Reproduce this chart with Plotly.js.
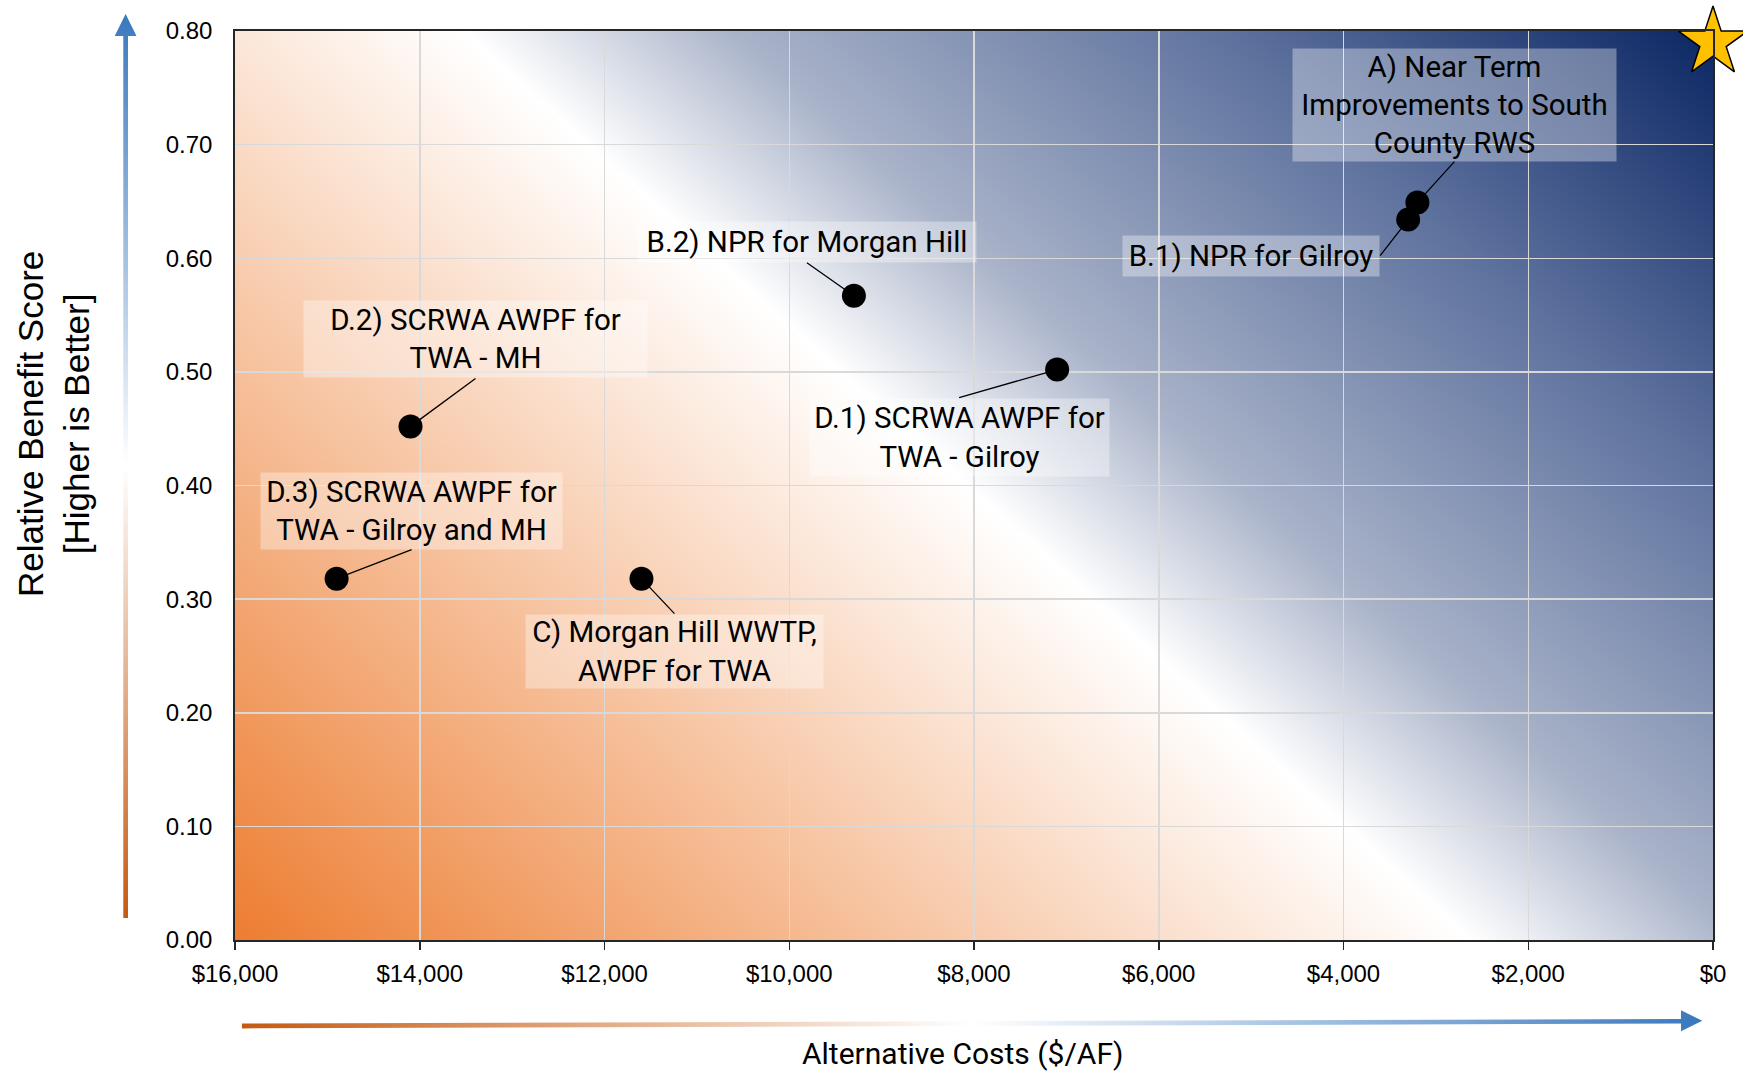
<!DOCTYPE html>
<html>
<head>
<meta charset="utf-8">
<script src="https://cdn.plot.ly/plotly-3.0.1.min.js"></script>
<style>html,body{margin:0;padding:0;background:#fff;}#chart{width:1743px;height:1073px;}</style>
</head>
<body>
<div id="chart"></div>
<script>
// ---- data ----
const labels = [
  "A) Near Term<br>Improvements to South<br>County RWS",
  "B.1) NPR for Gilroy",
  "B.2) NPR for Morgan Hill",
  "D.1) SCRWA AWPF for<br>TWA - Gilroy",
  "D.2) SCRWA AWPF for<br>TWA - MH",
  "D.3) SCRWA AWPF for<br>TWA - Gilroy and MH",
  "C) Morgan Hill WWTP,<br>AWPF for TWA"
];
const costs  = [3200, 3300, 9300, 7100, 14100, 14900, 11600];
const scores = [0.649, 0.634, 0.567, 0.502, 0.452, 0.318, 0.318];
const idealCost  = [0];
const idealScore = [0.79];
const xTitle = "Alternative Costs ($/AF)";
const yTitle = "Relative Benefit Score<br>[Higher is Better]";

// ---- label placement: pixel offset from point to the box attachment point, anchors, box sizes ----
const labelOffsets = [[37,-41],[-28,36],[-47,-33],[-98,28],[65,-48],[75,-29],[33,35]];
const labelAnchors = [['center','bottom'],['right','middle'],['center','bottom'],['center','top'],
                      ['center','bottom'],['center','bottom'],['center','top']];
const labelBoxes   = [[323,112],[256,40],[338,40],[299,77],[343,76],[301,76],[297,73]];

// ---- geometry ----
const W = 1743, H = 1073;
const M = {l:235, r:30, t:31, b:133};
const PW = W - M.l - M.r, PH = H - M.t - M.b;
const px2paperX = p => (p - M.l) / PW;
const px2paperY = p => (H - M.b - p) / PH;
const svgURI = s => 'data:image/svg+xml;charset=utf-8,' + encodeURIComponent(s);

// background diagonal gradient (orange bottom-left -> white -> navy top-right)
const bgSVG = `<svg xmlns="http://www.w3.org/2000/svg" width="${PW}" height="${PH}" viewBox="0 0 ${PW} ${PH}" preserveAspectRatio="none">
<defs><linearGradient id="g" gradientUnits="userSpaceOnUse" x1="0" y1="${PH}" x2="1114" y2="-328">
<stop offset="0" stop-color="#ED7D31"/>
<stop offset="0.497" stop-color="#FFFFFF"/>
<stop offset="0.606" stop-color="#A9B3C9"/>
<stop offset="0.803" stop-color="#5E729E"/>
<stop offset="1" stop-color="#0B2663"/>
</linearGradient></defs><rect x="0" y="0" width="${PW}" height="${PH}" fill="url(#g)"/></svg>`;

// vertical arrow (origin 110,5 ; 32x920)
const vSVG = `<svg xmlns="http://www.w3.org/2000/svg" width="32" height="920" viewBox="0 0 32 920" preserveAspectRatio="none">
<defs><linearGradient id="v" gradientUnits="userSpaceOnUse" x1="0" y1="9" x2="0" y2="913">
<stop offset="0" stop-color="#3978BE"/><stop offset="0.5" stop-color="#FFFFFF"/><stop offset="1" stop-color="#C55A11"/>
</linearGradient></defs>
<polygon points="15.6,9 26.5,31 18,31 18,913 13.3,913 13.3,31 4.7,31" fill="url(#v)"/></svg>`;

// horizontal arrow (origin 230,1000 ; 1480x40)
const hSVG = `<svg xmlns="http://www.w3.org/2000/svg" width="1480" height="40" viewBox="0 0 1480 40" preserveAspectRatio="none">
<defs><linearGradient id="h" gradientUnits="userSpaceOnUse" x1="12" y1="0" x2="1472" y2="0">
<stop offset="0" stop-color="#C55A11"/><stop offset="0.5" stop-color="#FFFFFF"/><stop offset="1" stop-color="#3978BE"/>
</linearGradient></defs>
<polygon points="12,23.6 1451,18.9 1451,10.3 1472.3,20.8 1451,31.3 1451,23.6 12,28.4" fill="url(#h)"/></svg>`;

const images = [
  {source: svgURI(bgSVG), xref:'paper', yref:'paper', x:0, y:1, sizex:1, sizey:1,
   xanchor:'left', yanchor:'top', sizing:'stretch', layer:'below'},
  {source: svgURI(vSVG), xref:'paper', yref:'paper', x:px2paperX(110), y:px2paperY(5),
   sizex:32/PW, sizey:920/PH, xanchor:'left', yanchor:'top', sizing:'stretch', layer:'above'},
  {source: svgURI(hSVG), xref:'paper', yref:'paper', x:px2paperX(230), y:px2paperY(1000),
   sizex:1480/PW, sizey:40/PH, xanchor:'left', yanchor:'top', sizing:'stretch', layer:'above'}
];

const labelFont = {family:'Roboto, "Open Sans", sans-serif', size:29.5, color:'#000'};
const annotations = labels.map((t,i)=>({
  x: costs[i], y: scores[i], xref:'x', yref:'y', text: t,
  showarrow:true, arrowhead:0, arrowwidth:1.3, arrowcolor:'#000',
  ax: labelOffsets[i][0], ay: labelOffsets[i][1], standoff: 11,
  xanchor: labelAnchors[i][0], yanchor: labelAnchors[i][1],
  width: labelBoxes[i][0], height: labelBoxes[i][1], borderpad:0,
  bgcolor:'rgba(255,255,255,0.35)', font: labelFont, align:'center', valign:'middle'
}));
annotations.push({
  text: yTitle, textangle:-90, xref:'paper', yref:'paper',
  x: px2paperX(53), y: px2paperY(424), xanchor:'center', yanchor:'middle', showarrow:false,
  font:{family:'"Liberation Sans", Arial, sans-serif', size:35, color:'#000'}
});
annotations.push({
  text: xTitle, xref:'paper', yref:'paper',
  x: px2paperX(962), y: px2paperY(1053), xanchor:'center', yanchor:'middle', showarrow:false,
  font:{family:'Roboto, sans-serif', size:30, color:'#000'}
});

const traces = [
  {x: costs, y: scores, type:'scatter', mode:'markers', hoverinfo:'skip',
   marker:{color:'#000', size:24}, cliponaxis:false},
  {x: idealCost, y: idealScore, type:'scatter', mode:'markers', hoverinfo:'skip',
   marker:{symbol:'star', color:'#FFC000', size:52, line:{color:'#000', width:1.5}}, cliponaxis:false}
];

const tickFont = {family:'"Liberation Sans", Arial, sans-serif', size:24, color:'#000'};
const layout = {
  width:W, height:H, margin:M, showlegend:false,
  paper_bgcolor:'#fff', plot_bgcolor:'#fff',
  xaxis:{range:[16000,0], dtick:2000, tickprefix:'$', tickformat:',d', showgrid:true,
    gridcolor:'#D9D9D9', gridwidth:1.5, zeroline:false, showline:true, mirror:true,
    linecolor:'#262626', linewidth:1.8, ticks:'outside', ticklen:8, tickwidth:1.5, tickcolor:'#262626',
    tickfont:tickFont, ticklabelstandoff:3, fixedrange:true},
  yaxis:{range:[0,0.8], dtick:0.1, tickformat:'.2f', showgrid:true,
    gridcolor:'#D9D9D9', gridwidth:1.5, zeroline:false, showline:true, mirror:true,
    linecolor:'#262626', linewidth:1.8, ticks:'', tickfont:tickFont, ticklabelstandoff:16, fixedrange:true},
  images: images,
  annotations: annotations
};

Plotly.newPlot('chart', traces, layout, {displayModeBar:false, staticPlot:true});
</script>
</body>
</html>
